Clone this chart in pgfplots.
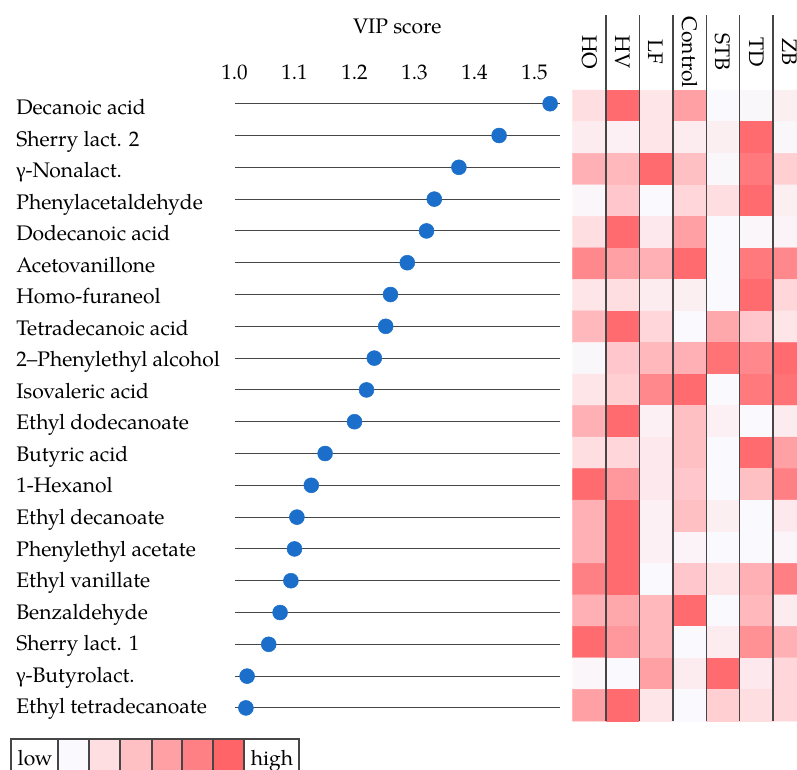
\documentclass[border=0pt]{standalone}
\usepackage{pgfplots}
\pgfplotsset{compat=1.18}
\usepackage{pgfplotstable}
\usepackage{fontspec}
\setmainfont{TeX Gyre Pagella}
\newfontfamily\greekfont{Liberation Serif}
\definecolor{dotblue}{RGB}{27,111,203}
\definecolor{gridc}{RGB}{70,70,70}
\definecolor{c0}{RGB}{250,250,254}
\definecolor{c1}{RGB}{255,222,225}
\definecolor{c2}{RGB}{255,192,196}
\definecolor{c3}{RGB}{255,160,164}
\definecolor{c4}{RGB}{255,128,132}
\definecolor{c5}{RGB}{255,100,104}

\pgfplotstableread{
y v
0 1.526
1 1.441
2 1.374
3 1.333
4 1.320
5 1.288
6 1.260
7 1.252
8 1.233
9 1.220
10 1.200
11 1.151
12 1.128
13 1.104
14 1.100
15 1.094
16 1.076
17 1.057
18 1.021
19 1.019
}\vipdata

\pgfplotstableread{
x y c
0 0 0.20
1 0 0.95
2 0 0.15
3 0 0.60
4 0 0.00
5 0 0.02
6 0 0.08
0 1 0.10
1 1 0.07
2 1 0.15
3 1 0.10
4 1 0.08
5 1 0.95
6 1 0.02
0 2 0.50
1 2 0.45
2 2 0.95
3 2 0.40
4 2 0.02
5 2 0.85
6 2 0.30
0 3 0.03
1 3 0.35
2 3 0.01
3 3 0.25
4 3 0.20
5 3 0.95
6 3 0.08
0 4 0.20
1 4 0.95
2 4 0.12
3 4 0.60
4 4 0.01
5 4 0.03
6 4 0.05
0 5 0.75
1 5 0.60
2 5 0.50
3 5 0.95
4 5 0.01
5 5 0.85
6 5 0.75
0 6 0.15
1 6 0.20
2 6 0.10
3 6 0.08
4 6 0.01
5 6 0.95
6 6 0.25
0 7 0.45
1 7 0.95
2 7 0.25
3 7 0.01
4 7 0.55
5 7 0.35
6 7 0.15
0 8 0.02
1 8 0.35
2 8 0.45
3 8 0.50
4 8 0.90
5 8 0.75
6 8 0.95
0 9 0.15
1 9 0.30
2 9 0.75
3 9 0.95
4 9 0.00
5 9 0.85
6 9 0.90
0 10 0.50
1 10 0.95
2 10 0.07
3 10 0.40
4 10 0.07
5 10 0.01
6 10 0.10
0 11 0.20
1 11 0.25
2 11 0.12
3 11 0.40
4 11 0.01
5 11 0.95
6 11 0.60
0 12 0.95
1 12 0.65
2 12 0.12
3 12 0.35
4 12 0.01
5 12 0.40
6 12 0.80
0 13 0.50
1 13 0.95
2 13 0.07
3 13 0.40
4 13 0.08
5 13 0.01
6 13 0.12
0 14 0.50
1 14 0.95
2 14 0.07
3 14 0.05
4 14 0.01
5 14 0.01
6 14 0.04
0 15 0.80
1 15 0.95
2 15 0.01
3 15 0.35
4 15 0.15
5 15 0.50
6 15 0.80
0 16 0.50
1 16 0.55
2 16 0.45
3 16 0.95
4 16 0.01
5 16 0.45
6 16 0.10
0 17 0.95
1 17 0.65
2 17 0.45
3 17 0.01
4 17 0.10
5 17 0.70
6 17 0.50
0 18 0.03
1 18 0.01
2 18 0.60
3 18 0.10
4 18 0.95
5 18 0.12
6 18 0.25
0 19 0.60
1 19 0.95
2 19 0.15
3 19 0.01
4 19 0.30
5 19 0.20
6 19 0.25
}\heatdata

\begin{document}
\fontsize{15.8pt}{19pt}\selectfont
\begin{tikzpicture}
\begin{scope}[x=0.75pt,y=-0.75pt]
\useasboundingbox (0,0) rectangle (797,769);
\end{scope}
\path[clip] (0pt,0pt) rectangle (597.75pt,-576.75pt);

% VIP dot plot
\begin{axis}[
  at={(175.875pt,-65.85pt)}, anchor=north west,
  scale only axis, width=244.125pt, height=477pt,
  xmin=1.0, xmax=1.5425, ymin=-0.5, ymax=19.5, y dir=reverse,
  clip=false,
  axis line style={draw=none},
  tick style={draw=none}, major tick length=0pt,
  xtick={1.0,1.1,1.2,1.3,1.4,1.5},
  xticklabel pos=upper,
  /pgf/number format/assume math mode=true,
  xticklabel style={/pgf/number format/.cd, fixed, fixed zerofill, precision=1, /tikz/.cd, anchor=base, yshift=5.9pt},
  ytick={0,...,19}, yticklabel={\mbox{}},
  ymajorgrids, major grid style={gridc, line width=0.8pt},
  xlabel={VIP score},
  xlabel style={at={(axis description cs:0.5,1)}, anchor=base, yshift=41pt},
]
\addplot[only marks, mark=*, mark size=5.6pt, mark options={fill=dotblue, draw=dotblue}] table[x=v, y=y] {\vipdata};
\end{axis}

% heatmap
\begin{axis}[
  at={(429.525pt,-11.25pt)}, anchor=north west,
  scale only axis, width=175.35pt, height=529.5pt,
  xmin=-0.5, xmax=6.5, ymin=-2.884, ymax=19.5, y dir=reverse,
  enlargelimits=false, axis on top, clip=false,
  axis line style={draw=none},
  tick style={draw=none}, major tick length=0pt,
  colormap={heat}{rgb255=(250,250,254) rgb255=(255,222,225) rgb255=(255,192,196) rgb255=(255,160,164) rgb255=(255,128,132) rgb255=(255,100,104)},
  point meta min=0, point meta max=1,
  xtick=\empty,
  extra x ticks={0.5,1.5,2.5,3.5,4.5,5.5,6.5},
  extra x tick labels={},
  extra x tick style={grid=major, major grid style={gridc, line width=1pt}, tick style={draw=none}},
  ytick={0,...,19},
  yticklabels={Decanoic acid, Sherry lact. 2, {{\greekfont γ}-Nonalact.}, Phenylacetaldehyde, Dodecanoic acid, Acetovanillone, Homo-furaneol, Tetradecanoic acid, 2–Phenylethyl alcohol, Isovaleric acid, Ethyl dodecanoate, Butyric acid, 1-Hexanol, Ethyl decanoate, Phenylethyl acetate, Ethyl vanillate, Benzaldehyde, Sherry lact. 1, {{\greekfont γ}-Butyrolact.}, Ethyl tetradecanoate},
  yticklabel style={anchor=base west, inner sep=0pt, xshift=-417.5pt, yshift=-6.4pt},
]
\addplot[matrix plot, mesh/cols=7, point meta=explicit] table[x=x, y=y, meta=c] {\heatdata};
\node[rotate=-90] at (axis cs:0,-1.705) {HO};
\node[rotate=-90] at (axis cs:1,-1.705) {HV};
\node[rotate=-90] at (axis cs:2,-1.705) {LF};
\node[rotate=-90] at (axis cs:3,-1.705) {Control};
\node[rotate=-90] at (axis cs:4,-1.705) {STB};
\node[rotate=-90] at (axis cs:5,-1.705) {TD};
\node[rotate=-90] at (axis cs:6,-1.705) {ZB};
\end{axis}

% legend
\begin{scope}[x=0.75pt,y=-0.75pt]
\fill[white] (11,739) rectangle (58,790);
\fill[c0] (58,739) rectangle (89,790);
\fill[c1] (89,739) rectangle (120,790);
\fill[c2] (120,739) rectangle (152,790);
\fill[c3] (152,739) rectangle (182,790);
\fill[c4] (182,739) rectangle (213,790);
\fill[c5] (213,739) rectangle (244,790);
\fill[white] (244,739) rectangle (299,790);
\draw[gridc, line width=0.8pt] (11,739) rectangle (299,790);
\foreach \xx in {58,89,120,152,182,213,244} \draw[gridc, line width=0.8pt] (\xx,739) -- (\xx,790);
\node[anchor=base] at (35,765) {low};
\node[anchor=base] at (272,765) {high};
\end{scope}
\end{tikzpicture}
\end{document}
